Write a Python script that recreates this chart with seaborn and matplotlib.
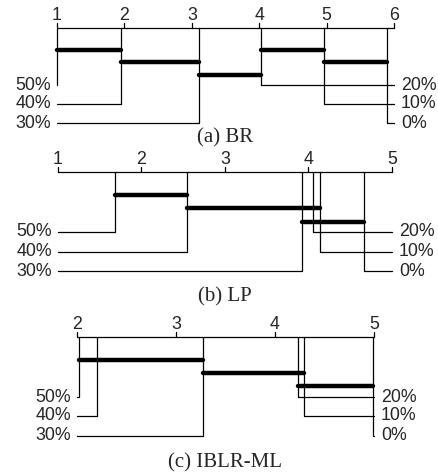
import pandas as pd
import matplotlib
matplotlib.use('Agg')
import matplotlib.pyplot as plt
import seaborn as sns

sns.set_style('white')
plt.rcParams['font.family'] = ['Liberation Sans', 'DejaVu Sans']

W, H = 439, 476

# average ranks (one per missing-label rate)
methods = ['0%', '10%', '20%', '30%', '40%', '50%']
br_ranks = [5.90, 4.96, 4.03, 3.11, 1.95, 1.00]
lp_ranks = [4.66, 4.14, 4.05, 3.92, 2.55, 1.68]
iblr_ranks = [4.99, 4.29, 4.23, 3.27, 2.20, 2.02]

# groups with no significant difference (from, to)
br_cliques = [('50%', '40%'), ('40%', '30%'), ('30%', '20%'), ('20%', '10%'), ('10%', '0%')]
lp_cliques = [('50%', '40%'), ('40%', '10%'), ('30%', '0%')]
iblr_cliques = [('50%', '30%'), ('30%', '10%'), ('20%', '0%')]

# layout in pixels
panels = [
    dict(title='(a) BR', ranks=br_ranks, cliques=br_cliques, lo=1, hi=6,
         px=(57, 394), band=(0, 145), axis_y=28, bar_y=[50, 62, 75, 50, 62],
         rows=[85, 104, 123], title_y=138),
    dict(title='(b) LP', ranks=lp_ranks, cliques=lp_cliques, lo=1, hi=5,
         px=(58, 392), band=(145, 300), axis_y=172, bar_y=[195, 208, 222],
         rows=[232, 252, 271], title_y=297),
    dict(title='(c) IBLR-ML', ranks=iblr_ranks, cliques=iblr_cliques, lo=2, hi=5,
         px=(77, 374), band=(300, 476), axis_y=337, bar_y=[360, 373, 386],
         rows=[397, 416, 436], title_y=463),
]

fig = plt.figure(figsize=(W / 100, H / 100), dpi=100)

for p in panels:
    b0, b1 = p['band']
    ax = fig.add_axes([0, 1 - b1 / H, 1, (b1 - b0) / H])
    ax.set_ylim(b1, b0)
    lo, hi = p['lo'], p['hi']
    unit = (p['px'][1] - p['px'][0]) / (hi - lo)
    ax.set_xlim(lo - p['px'][0] / unit, lo + (W - p['px'][0]) / unit)
    ax.set_axis_off()
    ay = p['axis_y']

    # rank axis
    ax.plot([lo, hi], [ay, ay], color='black', lw=0.9)
    for t in range(lo, hi + 1):
        ax.plot([t, t], [ay, ay - 5], color='black', lw=0.9)
        ax.text(t, ay - 8, str(t), ha='center', va='baseline', fontsize=12.8)

    rank = dict(zip(methods, p['ranks']))
    order = sorted(methods, key=lambda m: rank[m])

    # connectors + labels
    for i, m in enumerate(order[:3]):
        y = p['rows'][i]
        ax.plot([rank[m], rank[m], lo], [ay, y, y], color='black', lw=0.9)
        ax.text(lo - 6 / unit, y, m, ha='right', va='center', fontsize=12.8)
    for i, m in enumerate(order[3:]):
        y = p['rows'][i]
        ax.plot([rank[m], rank[m], hi], [ay, y, y], color='black', lw=0.9)
        ax.text(hi + 7 / unit, y, m, ha='left', va='center', fontsize=12.8)

    # clique bars
    rows = []
    for k, (a, c) in enumerate(p['cliques']):
        rows.append({'clique': k, 'rank': rank[a], 'y': p['bar_y'][k]})
        rows.append({'clique': k, 'rank': rank[c], 'y': p['bar_y'][k]})
    df = pd.DataFrame(rows)
    sns.lineplot(data=df, x='rank', y='y', units='clique', estimator=None,
                 sort=False, color='black', lw=3.2, solid_capstyle='round',
                 ax=ax, legend=False)
    ax.set_axis_off()

    mid = lo + (225 - p['px'][0]) / unit
    ax.text(mid, p['title_y'], p['title'], ha='center', va='center',
            family=['Liberation Serif'], fontsize=15)

fig.savefig('out.png', dpi=100)
